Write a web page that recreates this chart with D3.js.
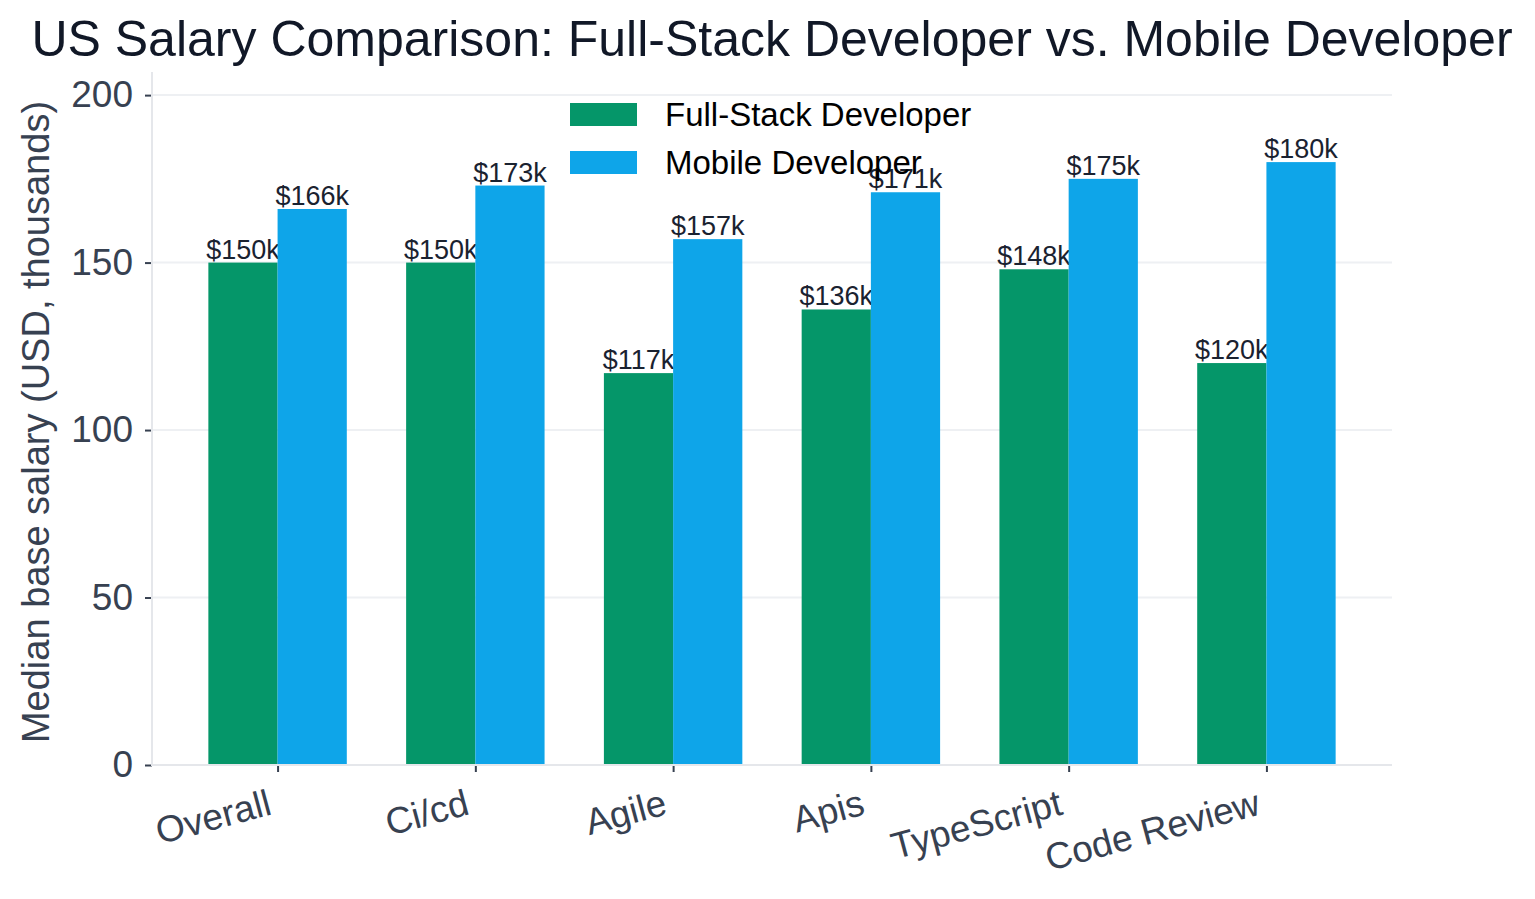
<!DOCTYPE html>
<html>
<head>
    <meta charset='utf-8'>
    <title>US Salary Comparison</title>
    <script src='https://cdn.jsdelivr.net/npm/d3@7'></script>
    <style>
        body { margin: 0; background: #fff; }
        text { font-family: 'Liberation Sans', Arial, Helvetica, sans-serif; }
    </style>
</head>
<body>
    <svg width='1535' height='899'></svg>
    <script>
        const categories = ['Overall', 'Ci/cd', 'Agile', 'Apis', 'TypeScript', 'Code Review']
        const seriesNames = ['Full-Stack Developer', 'Mobile Developer']
        const fullStack = [150, 150, 117, 136, 148, 120]
        const mobile = [166, 173, 157, 171, 175, 180]
        const yTicks = [0, 50, 100, 150, 200]
        const colors = ['#059669', '#0ea5e9']

        const svg = d3.select('svg')
        const plotL = 152, plotR = 1392, plotT = 72, plotB = 765
        const barW = 0.35

        // x in "index units", like matplotlib with 5% margins
        const x = d3.scaleLinear().domain([-0.635, categories.length - 1 + 0.635]).range([plotL, plotR])
        const y = d3.scaleLinear().domain([0, 206.9]).range([plotB, plotT])

        // grid
        svg.append('g').selectAll('line').data(yTicks).enter().append('line')
            .attr('x1', plotL).attr('x2', plotR)
            .attr('y1', d => y(d)).attr('y2', d => y(d))
            .attr('stroke', '#eef0f3').attr('stroke-width', 2)

        const series = [fullStack, mobile]
        series.forEach((vals, s) => {
            const off = s === 0 ? -barW : 0
            const g = svg.append('g')
            g.selectAll('rect').data(vals).enter().append('rect')
                .attr('x', (d, i) => x(i + off))
                .attr('width', x(barW) - x(0))
                .attr('y', d => y(d))
                .attr('height', d => y(0) - y(d))
                .attr('fill', colors[s])
            g.selectAll('text').data(vals).enter().append('text')
                .attr('x', (d, i) => x(i + off + barW / 2))
                .attr('y', d => y(d) - 4)
                .attr('text-anchor', 'middle')
                .attr('font-size', 27)
                .attr('fill', '#1a2230')
                .text(d => '$' + d + 'k')
        })

        // axes
        const yAxis = d3.axisLeft(y).tickValues(yTicks).tickSize(7).tickPadding(12)
        const ya = svg.append('g').attr('transform', `translate(${plotL},0)`).call(yAxis)
        ya.select('.domain').remove()
        ya.selectAll('.tick line').attr('stroke', '#374151').attr('stroke-width', 2)
        ya.selectAll('.tick text').attr('font-size', 37).attr('fill', '#374151')
            .style('font-family', "'Liberation Sans', Arial, sans-serif")

        const xAxis = d3.axisBottom(x).tickValues(d3.range(categories.length))
            .tickFormat(i => categories[i]).tickSize(7)
        const xa = svg.append('g').attr('transform', `translate(0,${plotB})`).call(xAxis)
        xa.select('.domain').remove()
        xa.selectAll('.tick line').attr('stroke', '#374151').attr('stroke-width', 2)
        xa.selectAll('.tick text').attr('font-size', 37).attr('fill', '#374151')
            .style('font-family', "'Liberation Sans', Arial, sans-serif")
            .attr('text-anchor', 'end')
            .attr('dy', 0)
            .attr('y', 0)
            .attr('transform', 'translate(-5,49) rotate(-15)')

        // spines
        svg.append('line').attr('x1', plotL).attr('x2', plotL).attr('y1', plotT).attr('y2', plotB + 1)
            .attr('stroke', '#e5e7eb').attr('stroke-width', 2)
        svg.append('line').attr('x1', plotL - 1).attr('x2', plotR).attr('y1', plotB).attr('y2', plotB)
            .attr('stroke', '#e5e7eb').attr('stroke-width', 2)

        // y label
        svg.append('text')
            .attr('transform', 'translate(49,422) rotate(-90)')
            .attr('text-anchor', 'middle')
            .attr('font-size', 38)
            .attr('fill', '#374151')
            .text('Median base salary (USD, thousands)')

        // title
        svg.append('text')
            .attr('x', (plotL + plotR) / 2).attr('y', 56)
            .attr('text-anchor', 'middle')
            .attr('font-size', 50)
            .attr('fill', '#111827')
            .text('US Salary Comparison: Full-Stack Developer vs. Mobile Developer')

        // legend
        const lg = svg.append('g').attr('transform', 'translate(570,103)')
        seriesNames.forEach((n, i) => {
            lg.append('rect').attr('x', 0).attr('y', i * 48).attr('width', 67).attr('height', 23)
                .attr('fill', colors[i])
            lg.append('text').attr('x', 95).attr('y', i * 48 + 23)
                .attr('font-size', 33).attr('fill', '#000').text(n)
        })
    </script>
</body>
</html>
